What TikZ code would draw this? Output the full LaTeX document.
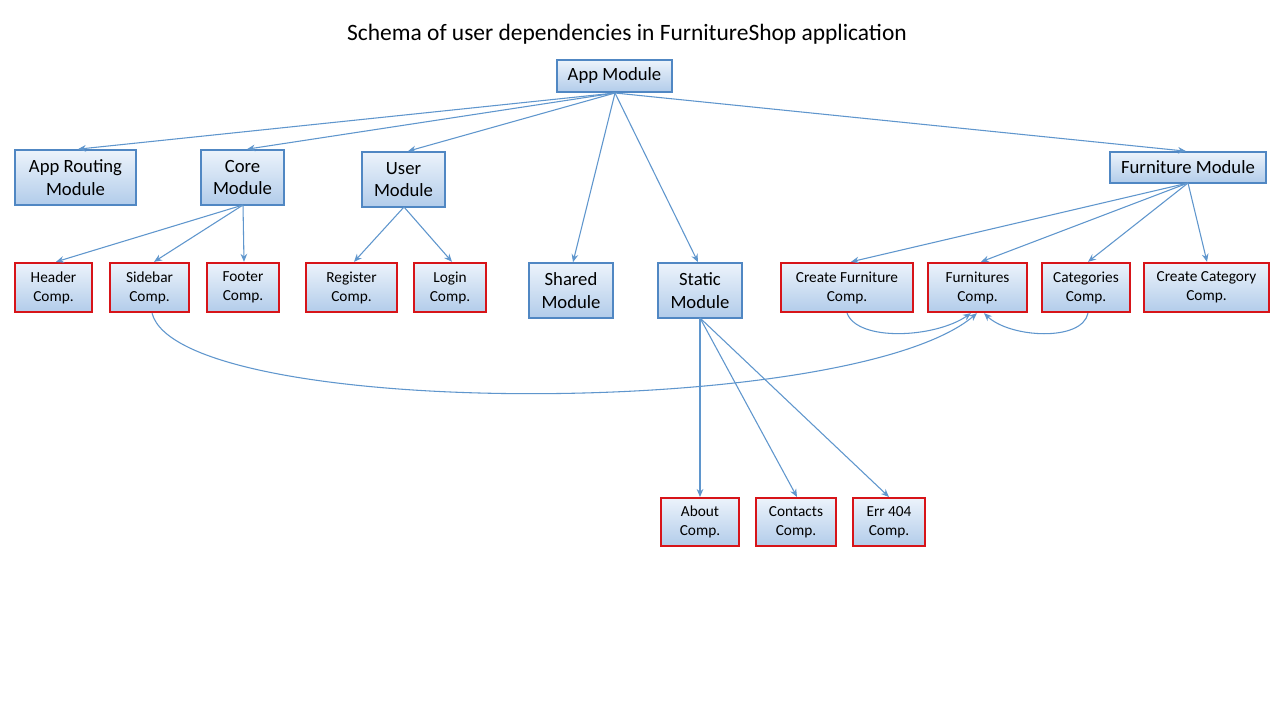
\documentclass[tikz,border=0pt]{standalone}
\usepackage{fontspec}
\setmainfont{Carlito}
\usetikzlibrary{arrows.meta,shadings}
\definecolor{lineblue}{RGB}{95,150,205}
\definecolor{boxblue}{RGB}{80,135,195}
\definecolor{boxred}{RGB}{215,20,25}
\definecolor{filltop}{RGB}{236,243,251}
\definecolor{fillbot}{RGB}{178,204,234}
\tikzset{
  boxbase/.style={top color=filltop,bottom color=fillbot,align=center,inner sep=0pt,line width=1.5pt,text=black},
  modbox/.style={boxbase,draw=boxblue,font=\fontsize{14pt}{17pt}\selectfont},
  compbox/.style={boxbase,draw=boxred,font=\fontsize{11.5pt}{14.2pt}\selectfont},
  conn/.style={draw=lineblue,line width=0.8pt,-{Stealth[length=6pt,width=5pt,inset=2pt]}}
}
\begin{document}
\begin{tikzpicture}[x=0.75pt,y=-0.75pt]
\useasboundingbox (0,0) rectangle (1280,720);
\fill[white] (0,0) rectangle (1280,720);
\node[font=\fontsize{17.6pt}{21pt}\selectfont] (title) at (627,34) {Schema of user dependencies in FurnitureShop application};
% modules
\node[modbox,minimum width=86pt,minimum height=24pt] (app) at (614.5,76) {App Module};
\node[modbox,minimum width=91pt,minimum height=41pt] (routing) at (75.5,177.5) {App Routing\\Module};
\node[modbox,minimum width=62pt,minimum height=41pt] (core) at (242.5,177.5) {Core\\Module};
\node[modbox,minimum width=62pt,minimum height=41pt] (user) at (403.5,179.5) {User\\Module};
\node[modbox,minimum width=117pt,minimum height=23pt] (furn) at (1188,167.5) {Furniture Module};
\node[modbox,minimum width=63pt,minimum height=41pt] (shared) at (571,290.5) {Shared\\Module};
\node[modbox,minimum width=63pt,minimum height=41pt] (static) at (700,290.5) {Static\\Module};
% components
\node[compbox,minimum width=58pt,minimum height=37pt] (header) at (53.5,287.5) {Header\\Comp.};
\node[compbox,minimum width=59pt,minimum height=37pt] (sidebar) at (149.5,287.5) {Sidebar\\Comp.};
\node[compbox,minimum width=54pt,minimum height=37pt] (footer) at (243,287.5) {Footer\\Comp.};
\node[compbox,minimum width=68pt,minimum height=37pt] (register) at (351.5,287.5) {Register\\Comp.};
\node[compbox,minimum width=54pt,minimum height=37pt] (login) at (450,287.5) {Login\\Comp.};
\node[compbox,minimum width=99pt,minimum height=37pt] (createf) at (847,287.5) {Create Furniture\\Comp.};
\node[compbox,minimum width=74pt,minimum height=37pt] (furnitures) at (977.5,287.5) {Furnitures\\Comp.};
\node[compbox,minimum width=66pt,minimum height=37pt] (categories) at (1086,287.5) {Categories\\Comp.};
\node[compbox,minimum width=94pt,minimum height=37pt] (createc) at (1206.5,287.5) {Create Category\\Comp.};
\node[compbox,minimum width=58pt,minimum height=36pt] (about) at (700,522) {About\\Comp.};
\node[compbox,minimum width=60pt,minimum height=36pt] (contacts) at (796,522) {Contacts\\Comp.};
\node[compbox,minimum width=54pt,minimum height=36pt] (err) at (889,522) {Err 404\\Comp.};
% connectors from app module
\coordinate (appb) at (615,93);
\draw[conn] (appb) -- (routing.north -| 78,0);
\draw[conn] (appb) -- (core.north -| 247,0);
\draw[conn] (appb) -- (user.north -| 408,0);
\draw[conn] (appb) -- (shared.north -| 573,0);
\draw[conn] (appb) -- (static.north -| 698,0);
\draw[conn] (appb) -- (furn.north -| 1186,0);
% core
\coordinate (coreb) at (243,205);
\draw[conn] (coreb) -- (header.north -| 56,0);
\draw[conn] (coreb) -- (sidebar.north -| 154,0);
\draw[conn] (coreb) -- (footer.north -| 244,0);
% user
\coordinate (userb) at (404,207);
\draw[conn] (userb) -- (register.north -| 354,0);
\draw[conn] (userb) -- (login.north -| 452,0);
% furniture
\coordinate (furnb) at (1188,183);
\draw[conn] (furnb) -- (createf.north -| 851,0);
\draw[conn] (furnb) -- (furnitures.north -| 981,0);
\draw[conn] (furnb) -- (categories.north -| 1088,0);
\draw[conn] (furnb) -- (createc.north -| 1207,0);
% static
\coordinate (staticb) at (700,318);
\draw[conn] (staticb) -- (about.north);
\draw[conn] (staticb) -- (contacts.north -| 797,0);
\draw[conn] (staticb) -- (err.north -| 889,0);
% curves
\draw[conn] (createf.south) .. controls (858,342) and (935,338) .. (furnitures.south -| 971,0);
\draw[conn] (categories.south -| 1088,0) .. controls (1082,342) and (1010,338) .. (furnitures.south -| 984,0);
\draw[conn] (sidebar.south -| 152,0) .. controls (180,420) and (850,420) .. (furnitures.south -| 977,0);
\end{tikzpicture}
\end{document}
